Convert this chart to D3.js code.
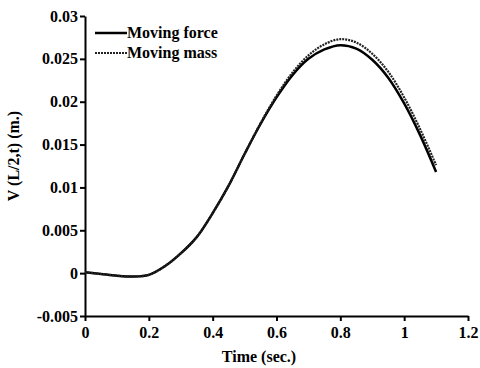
<!DOCTYPE html>
<html>
<head>
<meta charset="utf-8">
<script src="https://cdn.jsdelivr.net/npm/d3@7"></script>
<style>
  body { margin: 0; background: #fff; }
  svg text { font-family: "Liberation Serif", "Times New Roman", serif; font-weight: bold; fill: #000; }
  .axis path, .axis line { stroke: #000; stroke-width: 2; }
</style>
</head>
<body>
<div id="chart"></div>
<script>
// time in seconds
const time = [0, 0.05, 0.1, 0.15, 0.2, 0.25, 0.3, 0.35, 0.4, 0.45, 0.5, 0.55,
              0.6, 0.65, 0.7, 0.75, 0.8, 0.85, 0.9, 0.95, 1.0, 1.05, 1.1];
// V(L/2,t) - moving force
const movingForce = [0.0001, -0.0001, -0.0003, -0.0004, -0.0002, 0.0008, 0.0023, 0.0042, 0.0070, 0.0102, 0.0139, 0.0174,
                     0.0205, 0.0231, 0.0250, 0.0261, 0.0266, 0.0262, 0.0249, 0.0228, 0.0198, 0.0161, 0.0118];
// V(L/2,t) - moving mass
const movingMass = [0.0001, -0.0001, -0.0003, -0.0004, -0.0002, 0.0008, 0.0023, 0.0042, 0.0070, 0.0102, 0.0139, 0.0175,
                    0.0207, 0.0234, 0.0254, 0.0267, 0.0273, 0.0269, 0.0256, 0.0235, 0.0205, 0.0168, 0.0126];
const xTicks = [0, 0.2, 0.4, 0.6, 0.8, 1, 1.2];
const yTicks = [-0.005, 0, 0.005, 0.01, 0.015, 0.02, 0.025, 0.03];

const width = 480, height = 368;
const margin = {top: 16, right: 12, bottom: 52, left: 85};
const fontSize = 16;

const svg = d3.select("#chart").append("svg")
    .attr("width", width)
    .attr("height", height);

let x = d3.scaleLinear().domain([0, 1.2]).range([margin.left, width - margin.right]);
let y = d3.scaleLinear().domain([-0.005, 0.03]).range([height - margin.bottom, margin.top]);

let xAxis = d3.axisBottom(x).tickValues(xTicks).tickSize(5).tickSizeOuter(0)
    .tickFormat(d => String(d));
let yAxis = d3.axisLeft(y).tickValues(yTicks).tickSize(5).tickSizeOuter(0)
    .tickFormat(d => String(+d.toFixed(3)));

svg.append("g")
    .attr("class", "axis")
    .attr("transform", "translate(0," + y(-0.005) + ")")
    .call(xAxis)
    .selectAll("text")
    .attr("font-size", fontSize)
    .attr("dy", "0.85em");

svg.append("g")
    .attr("class", "axis")
    .attr("transform", "translate(" + x(0) + ",0)")
    .call(yAxis)
    .selectAll("text")
    .attr("font-size", fontSize)
    .attr("x", -7);

//LINES
let line = (vals) => d3.line()
    .x((d, i) => x(time[i]))
    .y(d => y(d))
    .curve(d3.curveCatmullRom.alpha(0.5))(vals);

svg.append("path")
    .attr("d", line(movingForce))
    .attr("fill", "none")
    .attr("stroke", "#000")
    .attr("stroke-width", 2.5);

svg.append("path")
    .attr("d", line(movingMass))
    .attr("fill", "none")
    .attr("stroke", "#222")
    .attr("stroke-width", 2.2)
    .attr("stroke-dasharray", "2,1");

//LEGEND
let legend = svg.append("g").attr("transform", "translate(95,33)");
legend.append("line")
    .attr("x1", 0).attr("x2", 32).attr("y1", 0).attr("y2", 0)
    .attr("stroke", "#000").attr("stroke-width", 2.5);
legend.append("text").attr("x", 32).attr("y", 5).attr("font-size", fontSize).text("Moving force");
legend.append("line")
    .attr("x1", 0).attr("x2", 32).attr("y1", 20).attr("y2", 20)
    .attr("stroke", "#222").attr("stroke-width", 2).attr("stroke-dasharray", "2,1");
legend.append("text").attr("x", 32).attr("y", 25).attr("font-size", fontSize).text("Moving mass");

//AXIS LABELS
svg.append("text")
    .attr("x", 259)
    .attr("y", 362)
    .attr("text-anchor", "middle")
    .attr("font-size", fontSize)
    .text("Time (sec.)");

svg.append("text")
    .attr("transform", "translate(19,156) rotate(-90)")
    .attr("text-anchor", "middle")
    .attr("font-size", fontSize)
    .text("V (L/2,t) (m.)");
</script>
</body>
</html>
